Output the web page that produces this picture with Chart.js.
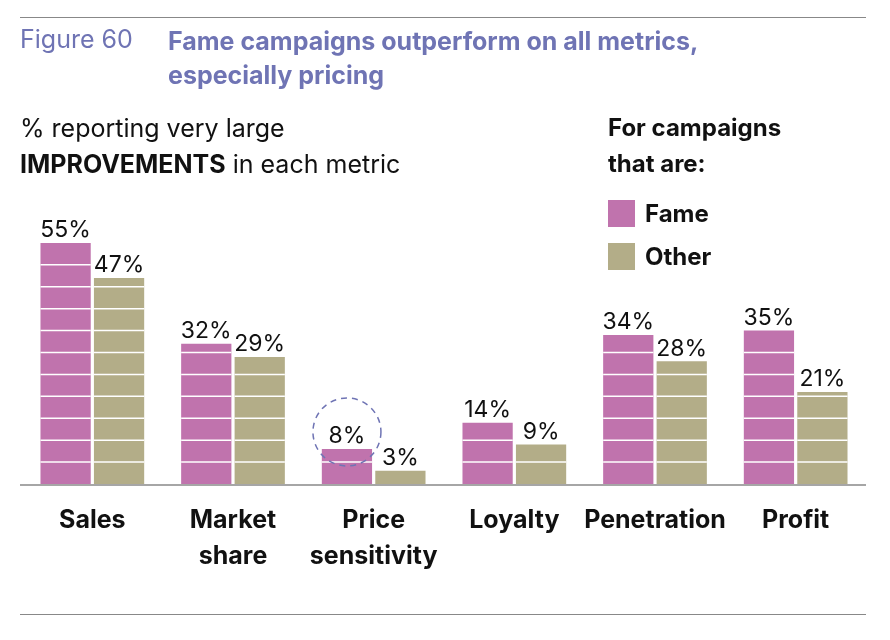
<!DOCTYPE html>
<html><head><meta charset="utf-8">
<script src="https://cdn.jsdelivr.net/npm/chart.js@4/dist/chart.umd.min.js"></script>
<style>
  body { margin:0; background:#fff; font-family: Inter, Roboto, sans-serif; }
  #wrap { position:relative; width:890px; height:640px; }
  canvas { position:absolute; left:0; top:0; z-index:0; }
  .rule { position:absolute; left:20px; width:846px; height:1px; background:#888; }
  .t { position:absolute; white-space:nowrap; z-index:1; background:transparent; }
</style></head>
<body>
<div id="wrap">
  <canvas id="c" width="890" height="640"></canvas>
  <div class="rule" style="top:17px"></div>
  <div class="rule" style="top:614px"></div>
  <div class="t" style="left:20px;top:24px;font-size:25px;color:#6f74b4;">Figure 60</div>
  <div class="t" style="left:168px;top:24px;font-size:25px;line-height:34px;font-weight:700;color:#6f74b4;">Fame campaigns outperform on all metrics,<br>especially pricing</div>
  <div class="t" style="left:20px;top:110px;font-size:25px;line-height:36px;color:#111;">% reporting very large<br><b>IMPROVEMENTS</b> in each metric</div>
  <div class="t" style="left:608px;top:110px;font-size:24px;line-height:36px;font-weight:700;color:#111;">For campaigns<br>that are:</div>
  <div class="t" style="left:608px;top:199px;font-size:24px;font-weight:700;color:#111;"><span style="display:inline-block;width:27px;height:27px;background:#c073ad;vertical-align:-5px;margin-right:10px"></span>Fame</div>
  <div class="t" style="left:608px;top:242px;font-size:24px;font-weight:700;color:#111;"><span style="display:inline-block;width:27px;height:27px;background:#b3ad88;vertical-align:-5px;margin-right:10px"></span>Other</div>
</div>
<script>
const categories = [['Sales'], ['Market', 'share'], ['Price', 'sensitivity'], ['Loyalty'], ['Penetration'], ['Profit']];
const fameValues = [55, 32, 8, 14, 34, 35];
const otherValues = [47, 29, 3, 9, 28, 21];
const gridTicks = [5, 10, 15, 20, 25, 30, 35, 40, 45, 50, 55];
const highlightIndex = 2;

const overlay = {
  id: 'overlay',
  afterDatasetsDraw(chart) {
    const ctx = chart.ctx, y = chart.scales.y, x = chart.scales.x, a = chart.chartArea;
    ctx.save();
    // white stripes across bars only
    ctx.strokeStyle = '#fff'; ctx.lineWidth = 1.5;
    chart.data.datasets.forEach((ds, di) => {
      chart.getDatasetMeta(di).data.forEach(bar => {
        gridTicks.forEach(v => {
          const py = y.getPixelForValue(v);
          if (py <= bar.y + 1) return;
          ctx.beginPath(); ctx.moveTo(bar.x - bar.width / 2, py); ctx.lineTo(bar.x + bar.width / 2, py); ctx.stroke();
        });
      });
    });
    // baseline
    ctx.strokeStyle = '#888'; ctx.lineWidth = 1.5;
    ctx.beginPath(); ctx.moveTo(a.left - 2, a.bottom + 1); ctx.lineTo(a.right, a.bottom + 1); ctx.stroke();
    // value labels
    ctx.fillStyle = '#111'; ctx.font = '23px Inter, Roboto, sans-serif';
    ctx.textAlign = 'center'; ctx.textBaseline = 'bottom';
    chart.data.datasets.forEach((ds, di) => {
      chart.getDatasetMeta(di).data.forEach((bar, i) => {
        ctx.fillText(ds.data[i] + '%', bar.x, bar.y - 1);
      });
    });
    // dashed circle
    const hb = chart.getDatasetMeta(0).data[highlightIndex];
    ctx.strokeStyle = '#6f74b4'; ctx.lineWidth = 1.5; ctx.setLineDash([6, 5]);
    ctx.beginPath(); ctx.arc(hb.x, hb.y - 17, 34, 0, Math.PI * 2); ctx.stroke();
    ctx.setLineDash([]);
    // category labels
    ctx.font = 'bold 25px Inter, Roboto, sans-serif'; ctx.textBaseline = 'middle';
    categories.forEach((lines, i) => {
      const px = x.getPixelForValue(i);
      lines.forEach((l, k) => ctx.fillText(l, px, a.bottom + 36 + k * 36));
    });
    ctx.restore();
  }
};

new Chart(document.getElementById('c'), {
  type: 'bar',
  data: {
    labels: categories.map(c => c.join(' ')),
    datasets: [
      { label: 'Fame', data: fameValues, backgroundColor: '#c073ad' },
      { label: 'Other', data: otherValues, backgroundColor: '#b3ad88' }
    ]
  },
  options: {
    responsive: false,
    animation: false,
    layout: { padding: { left: 22, right: 24, top: 221, bottom: 156 } },
    categoryPercentage: 0.76,
    barPercentage: 0.94,
    scales: {
      x: { display: false },
      y: { display: false, min: 0, max: 60 }
    },
    plugins: { legend: { display: false }, tooltip: { enabled: false } }
  },
  plugins: [overlay]
});
</script>
</body></html>
